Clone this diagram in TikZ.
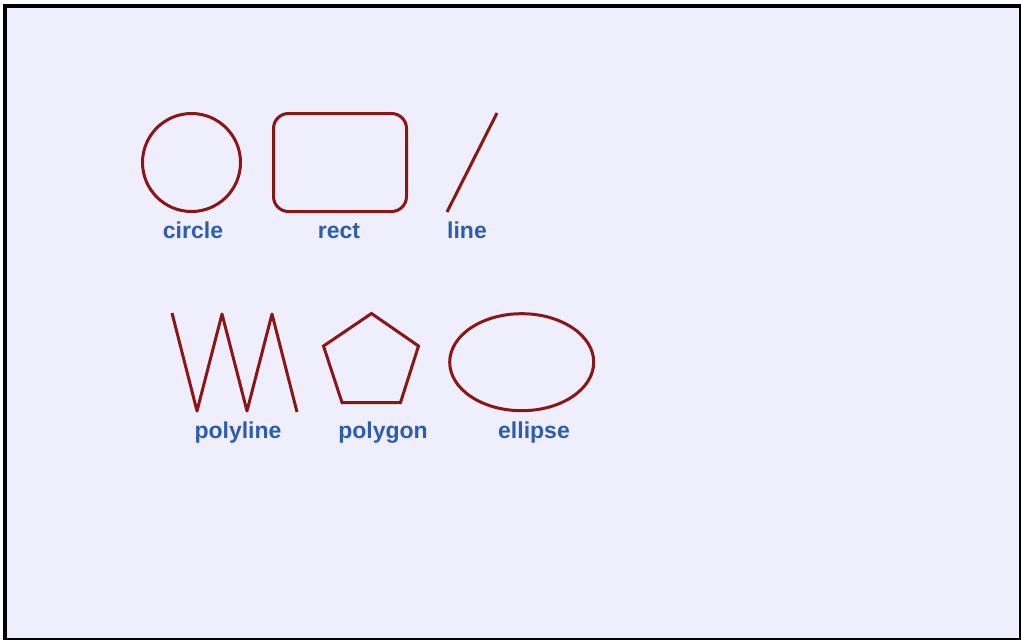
\documentclass[tikz,border=0pt]{standalone}
\usepackage{fontspec}
\usetikzlibrary{shapes.geometric}
\setmainfont{Liberation Sans}
\definecolor{bg}{HTML}{EEEEFC}
\definecolor{shape}{HTML}{8C1616}
\definecolor{lbl}{HTML}{2E5DAE}
\tikzset{
  shp/.style={draw=shape, line width=3pt, line join=miter},
  lab/.style={text=lbl, font=\fontsize{23pt}{26pt}\selectfont\bfseries, anchor=base, inner sep=0pt},
}
\begin{document}
\begin{tikzpicture}[x=1pt,y=-1pt]
\useasboundingbox (0,0) rectangle (1021,640);
\fill[white] (0,0) rectangle (1021,640);
\fill[black] (3,4) rectangle (1021,640);
\fill[bg] (7,8) rectangle (1019,638);
% row 1
\node[shp, circle, minimum size=98pt, inner sep=0pt] (circ) at (191.5,162.5) {};
\node[shp, rectangle, rounded corners=15pt, minimum width=133pt, minimum height=98pt, inner sep=0pt] (rct) at (340,162.5) {};
\coordinate (l1) at (447,212);
\coordinate (l2) at (497,113);
\draw[shp] (l1) -- (l2);
\node[lab] (tcirc) at (193,238.5) {circle};
\node[lab] (trect) at (339,238.5) {rect};
\node[lab] (tline) at (467,238.5) {line};
% row 2
\coordinate (p1) at (172,313);
\coordinate (p2) at (197,411);
\coordinate (p3) at (222,314);
\coordinate (p4) at (247,411);
\coordinate (p5) at (272,314);
\coordinate (p6) at (297,412);
\draw[shp, line join=round] (p1) -- (p2) -- (p3) -- (p4) -- (p5) -- (p6);
\coordinate (g1) at (371.5,313.5);
\coordinate (g2) at (418.5,346);
\coordinate (g3) at (400.5,402.5);
\coordinate (g4) at (342,402.5);
\coordinate (g5) at (323.5,346);
\draw[shp] (g1) -- (g2) -- (g3) -- (g4) -- (g5) -- cycle;
\node[shp, ellipse, minimum width=144pt, minimum height=97pt, inner sep=0pt] (ell) at (521.7,362.2) {};
\node[lab] (tpoly) at (238,438.5) {polyline};
\node[lab] (tpgon) at (383,438.5) {polygon};
\node[lab] (tell) at (534,438.5) {ellipse};
\end{tikzpicture}
\end{document}
